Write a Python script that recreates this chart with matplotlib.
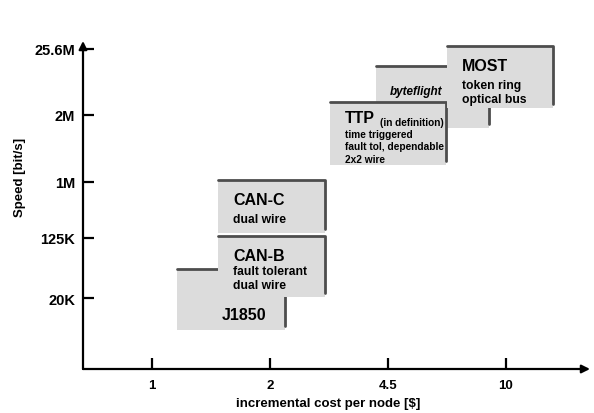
import matplotlib.pyplot as plt
from matplotlib.patches import Rectangle
from matplotlib.markers import TICKRIGHT

plt.rcParams['font.family'] = ['Liberation Sans', 'DejaVu Sans']
plt.rcParams['font.weight'] = 'bold'

# axis categories (positions are index/level units on a schematic scale)
cost_labels = ['1', '2', '4.5', '10']
cost_pos = [1, 2, 3, 4]
speed_labels = ['20K', '125K', '1M', '2M', '25.6M']
speed_pos = [1.145, 2.113, 3.016, 4.097, 5.161]

# bus systems, in drawing order (back to front)
buses = ['J1850', 'CAN-B', 'CAN-C', 'byteflight', 'TTP', 'MOST']
cost_lo = [1.21, 1.56, 1.56, 2.90, 2.51, 3.50]
cost_hi = [2.13, 2.47, 2.47, 3.86, 3.49, 4.40]
speed_lo = [0.63, 1.16, 2.19, 3.89, 3.29, 4.21]
speed_hi = [1.61, 2.15, 3.05, 4.89, 4.31, 5.21]
subtitles = [[], ['fault tolerant', 'dual wire'], ['dual wire'], [],
             ['time triggered', 'fault tol, dependable', '2x2 wire'],
             ['token ring', 'optical bus']]

fig = plt.figure(figsize=(5.94, 4.14), dpi=100)
ax = fig.add_axes([83 / 594, 44 / 414, 507 / 594, 328 / 414])
ax.set_xlim(0.415, 4.712)
ax.set_ylim(0, 5.29)
for s in ax.spines.values():
    s.set_visible(False)

# axes with arrows
for end in [(1.0, 0), (0, 1.0)]:
    ax.annotate('', xy=end, xytext=(0, 0), xycoords='axes fraction',
                arrowprops=dict(arrowstyle='-|>', lw=1.6, color='black',
                                mutation_scale=12, shrinkA=0, shrinkB=0),
                annotation_clip=False)

ax.set_xticks(cost_pos)
ax.set_xticklabels(cost_labels, fontsize=9.5, fontweight='bold')
ax.set_yticks(speed_pos)
ax.set_yticklabels(speed_labels, fontsize=10.5, fontweight='bold')
ax.tick_params(axis='x', direction='in', length=8, width=1.6,
               color='black', pad=7)
ax.tick_params(axis='y', length=0, pad=5.5)
# y tick marks pointing right from the axis
ax.plot([ax.get_xlim()[0]] * len(speed_pos), speed_pos, linestyle='none',
        marker=TICKRIGHT, markersize=8, markeredgewidth=1.6, color='black',
        clip_on=False, zorder=10)

ax.set_xlabel('incremental cost per node [$]', fontsize=9.5, fontweight='bold')
ax.set_ylabel('Speed [bit/s]', fontsize=9.5, fontweight='bold')
ax.xaxis.set_label_coords(0.483, -0.085)
ax.yaxis.set_label_coords(-0.112, 0.588)

fill = '#dcdcdc'
edge = '#4d4d4d'
for i, name in enumerate(buses):
    x0, x1 = cost_lo[i], cost_hi[i]
    y0, y1 = speed_lo[i], speed_hi[i]
    ax.add_patch(Rectangle((x0, y0), x1 - x0, y1 - y0, facecolor=fill,
                           edgecolor='none', zorder=2 + i))
    ax.plot([x0, x1, x1], [y1, y1, y0 + 0.06], color=edge, lw=2.0,
            solid_joinstyle='round', solid_capstyle='round', zorder=2 + i)
    z = 2 + i + 0.5
    if name == 'J1850':
        ax.annotate(name, xy=(x0, y1), xytext=(45 * 0.72, -45 * 0.72),
                    textcoords='offset points', fontsize=11.5, va='center',
                    ha='left', zorder=z)
    elif name == 'byteflight':
        ax.annotate(name, xy=(x0, y1), xytext=(66 * 0.72, -25 * 0.72),
                    textcoords='offset points', fontsize=8.5, va='center',
                    ha='right', style='italic', zorder=z)
    else:
        top_off = 16 if name == 'TTP' else 20
        ax.annotate(name, xy=(x0, y1), xytext=(15 * 0.72, -top_off * 0.72),
                    textcoords='offset points', fontsize=11.5, va='center',
                    ha='left', zorder=z)
        if name == 'TTP':
            ax.annotate('(in definition)', xy=(x0, y1),
                        xytext=(50 * 0.72, -20 * 0.72),
                        textcoords='offset points', fontsize=7.2,
                        va='center', ha='left', zorder=z)
            first, step, fs = 32, 12.5, 7.3
        else:
            first, step, fs = (39, 14, 8.7) if name != 'CAN-B' else (35, 14, 8.7)
        for k, line in enumerate(subtitles[i]):
            ax.annotate(line, xy=(x0, y1),
                        xytext=(15 * 0.72, -(first + k * step) * 0.72),
                        textcoords='offset points', fontsize=fs,
                        va='center', ha='left', zorder=z)

plt.savefig('out.png', dpi=100)
